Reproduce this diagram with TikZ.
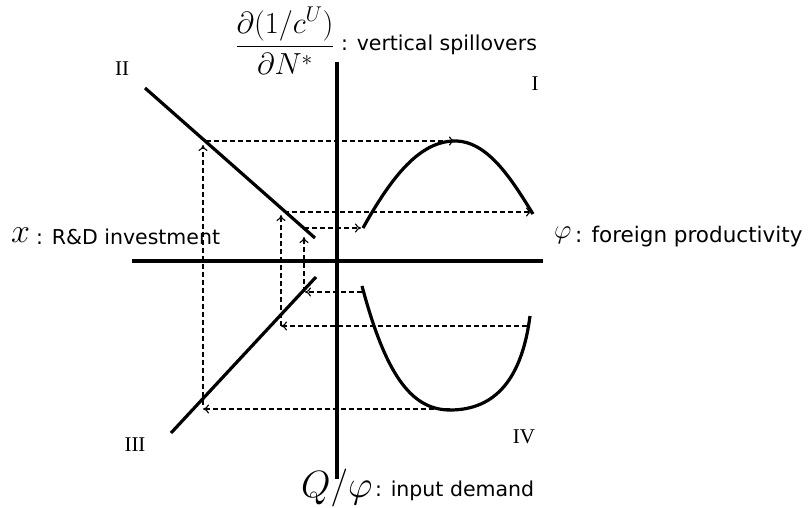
\RequirePackage{fix-cm}
\documentclass[tikz,border=0pt]{standalone}
\usepackage{amsmath}
\usepackage{fontspec}
\setsansfont{DejaVu Sans}
\newfontfamily\numfont{Liberation Serif}
\usetikzlibrary{arrows.meta}
\tikzset{
  axis/.style={line width=3.6pt},
  curveline/.style={line width=3.2pt},
  guide/.style={dashed, line width=1.1pt, dash pattern=on 5pt off 3pt},
  guidearrow/.style={guide, -{To[length=6pt,width=9pt,line width=1.1pt]}},
  lbl/.style={font=\sffamily\fontsize{20.5}{23}\selectfont, inner sep=0pt},
  mathlbl/.style={font=\fontsize{27}{30}\selectfont, inner sep=0pt},
  roman/.style={font=\numfont\fontsize{21}{23}\selectfont, inner sep=0pt},
}
\begin{document}
\begin{tikzpicture}[x=1pt,y=-1pt]
\useasboundingbox (0,0) rectangle (809,508);
% axes
\coordinate (xl) at (132,261);
\coordinate (xr) at (543,261);
\coordinate (yt) at (337,62);
\coordinate (yb) at (337,479);
\draw[axis] (xl) -- (xr);
\draw[axis] (yt) -- (yb);
% line II and III
\coordinate (IIa) at (145,88);
\coordinate (IIb) at (315,238);
\coordinate (IIIa) at (316,277);
\coordinate (IIIb) at (171,433);
\draw[curveline] (IIa) -- (IIb);
\draw[curveline] (IIIa) -- (IIIb);
% curve I
\coordinate (c1s) at (363,228);
\coordinate (c1p) at (455,141);
\coordinate (c1e) at (533,214);
\draw[curveline] (c1s) .. controls (392,176) and (420,141) .. (c1p)
  .. controls (488,141) and (512,180) .. (c1e);
% curve IV
\coordinate (c4s) at (362,286);
\coordinate (c4b) at (450,410);
\coordinate (c4e) at (530,316);
\draw[curveline] (c4s) .. controls (385,372) and (410,410) .. (c4b)
  .. controls (496,410) and (522,378) .. (c4e);
% guide points
\coordinate (g1a) at (450,409);
\coordinate (g1b) at (203,409);
\coordinate (g1c) at (203,145);
\coordinate (g1d) at (206,141);
\coordinate (g1e) at (455,141);
\coordinate (g2a) at (527,326);
\coordinate (g2b) at (281,326);
\coordinate (g2c) at (281,215);
\coordinate (g2d) at (284,212);
\coordinate (g2e) at (532,212);
\coordinate (g3a) at (362,292);
\coordinate (g3b) at (305,292);
\coordinate (g3c) at (304,237);
\coordinate (g3d) at (304,228);
\coordinate (g3e) at (361,228);
\coordinate (g1v) at (203,405);
\coordinate (g2v) at (281,326);
\coordinate (g3v) at (304,292);
% outer loop
\draw[guidearrow] (g1a) -- (g1b);
\draw[guidearrow] (g1v) -- (g1c);
\draw[guidearrow] (g1d) -- (g1e);
% middle loop
\draw[guidearrow] (g2a) -- (g2b);
\draw[guidearrow] (g2v) -- (g2c);
\draw[guidearrow] (g2d) -- (g2e);
% inner loop
\draw[guidearrow] (g3a) -- (g3b);
\draw[guidearrow] (g3v) -- (g3c);
\draw[guidearrow] (g3d) -- (g3e);
% labels
\node[mathlbl, font=\fontsize{30.5}{33}\selectfont] (frac) at (285,41) {$\dfrac{\partial(1/c^U)}{\partial N^*}$};
\node[lbl, anchor=west] (vs) at (341,45) {: vertical spillovers};
\node[mathlbl, font=\fontsize{34}{36}\selectfont, anchor=west] (xm) at (11,235) {$x$};
\node[lbl, anchor=west] (rd) at (36,237) {: R\&D investment};
\node[mathlbl, anchor=west] (phi) at (554,235) {$\varphi$};
\node[lbl, font=\sffamily\fontsize{21.5}{23}\selectfont, anchor=west] (fp) at (575,237) {: foreign productivity};
\node[mathlbl, font=\fontsize{38}{40}\selectfont, anchor=west] (qm) at (301,488) {$Q/\varphi$};
\node[lbl, anchor=west] (id) at (375,491) {: input demand};
\node[roman] (rI) at (535,84) {I};
\node[roman] (rII) at (122,69) {II};
\node[roman] (rIII) at (135,445) {III};
\node[roman] (rIV) at (524,437) {IV};
\end{tikzpicture}
\end{document}
